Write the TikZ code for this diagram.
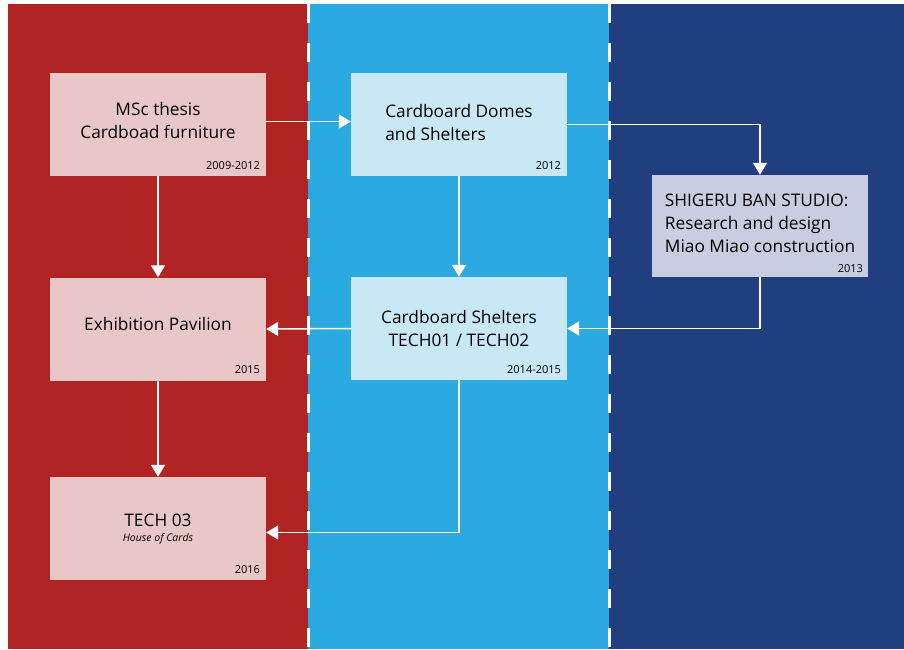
\documentclass[tikz,border=0pt]{standalone}
\usepackage{fontspec}
\setmainfont{Open Sans}
\usetikzlibrary{arrows.meta, positioning}
\definecolor{panelred}{RGB}{177, 36, 36}
\definecolor{panelblue}{RGB}{43, 170, 226}
\definecolor{paneldark}{RGB}{33, 63, 127}
\definecolor{boxred}{RGB}{233, 199, 199}
\definecolor{boxblue}{RGB}{201, 232, 246}
\definecolor{boxdark}{RGB}{200, 205, 225}

\begin{document}
\begin{tikzpicture}[x=1pt, y=-1pt,
  stage/.style={minimum width=216pt, minimum height=103pt, inner sep=0pt, font=\fontsize{17.3}{23}\selectfont},
  year/.style={anchor=base east, inner sep=0pt, font=\fontsize{11}{12}\selectfont},
  flow/.style={draw=white, line width=1.5pt, -{Triangle[length=12pt, width=14pt]}}]
  \useasboundingbox (0, 0) rectangle (904, 649);

  % Panels
  \fill[panelred] (8, 4) rectangle (308, 649);
  \fill[panelblue] (308, 4) rectangle (609, 649);
  \fill[paneldark] (609, 4) rectangle (904, 649);
  \draw[white, line width=3pt, dash pattern=on 19pt off 20pt] (308, 4) -- (308, 649);
  \draw[white, line width=3pt, dash pattern=on 19pt off 20pt] (609, 4) -- (609, 649);

  % Left column
  \node[stage, fill=boxred, align=center] (msc) at (158, 124.5) {MSc thesis\\Cardboad furniture\\[-14pt]};
  \node[stage, fill=boxred, align=center] (expo) at (158, 329) {Exhibition Pavilion\\[-12pt]};
  \node[stage, fill=boxred, align=center] (tech3) at (158, 528.5) {TECH 03\\[-8pt]{\fontsize{10.5}{12}\selectfont\itshape House of Cards}};

  % Middle column
  \node[stage, fill=boxblue, align=left] (domes) at (459, 124.5) {Cardboard Domes\\and Shelters\\[-18pt]};
  \node[stage, fill=boxblue, align=center] (shelters) at (459, 328.5) {Cardboard Shelters\\TECH01 / TECH02};

  % Right column
  \node[stage, fill=boxdark, minimum height=102pt, align=left] (shigeru) at (760, 226) {SHIGERU BAN STUDIO:\\Research and design\\Miao Miao construction\\[-18pt]};

  % Years
  \node[year] (msc-year) at ([xshift=-6pt, yshift=7pt]msc.south east) {2009-2012};
  \node[year] (domes-year) at ([xshift=-6pt, yshift=7pt]domes.south east) {2012};
  \node[year] (shigeru-year) at ([xshift=-5pt, yshift=5pt]shigeru.south east) {2013};
  \node[year] (expo-year) at ([xshift=-6pt, yshift=7pt]expo.south east) {2015};
  \node[year] (shelters-year) at ([xshift=-6pt, yshift=7pt]shelters.south east) {2014-2015};
  \node[year] (tech3-year) at ([xshift=-6pt, yshift=7pt]tech3.south east) {2016};

  % Connections
  \draw[flow] ([yshift=3pt]msc.east) -- ([yshift=3pt]domes.west);
  \draw[flow] (domes.east) -| (shigeru.north);
  \draw[flow] (msc.south) -- (expo.north);
  \draw[flow] (domes.south) -- (shelters.north);
  \draw[flow] (shigeru.south) |- (shelters.east);
  \draw[flow] (shelters.west) -- (expo.east);
  \draw[flow] (expo.south) -- (tech3.north);
  \draw[flow] (shelters.south) |- ([yshift=-4pt]tech3.east);
\end{tikzpicture}
\end{document}
